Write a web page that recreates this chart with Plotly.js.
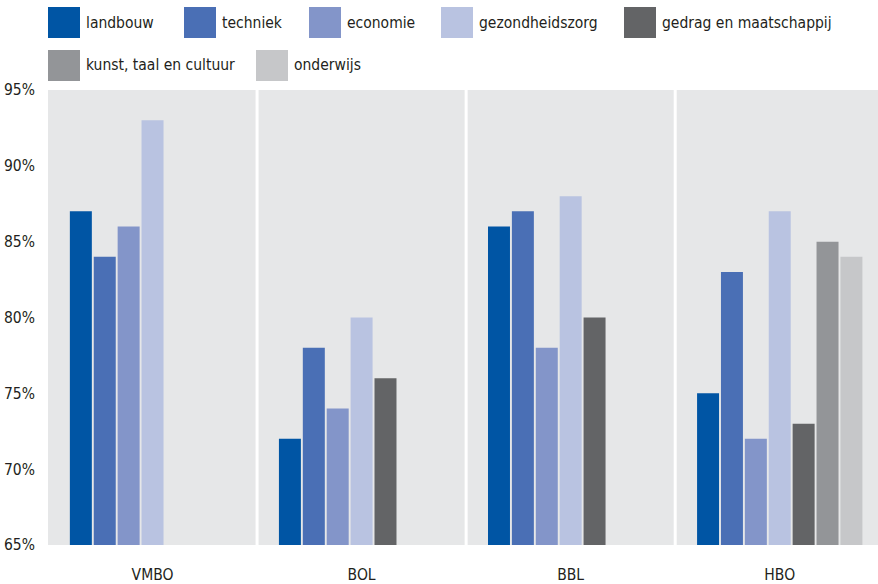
<!DOCTYPE html>
<html><head><meta charset="utf-8">
<script src="https://cdn.plot.ly/plotly-3.0.1.min.js"></script>
<style>html,body{margin:0;padding:0;background:#fff}#chart{width:878px;height:584px}</style>
</head><body><div id="chart"></div>
<script>
// ---- data ----
const categories = ['VMBO', 'BOL', 'BBL', 'HBO'];
const seriesNames = ['landbouw', 'techniek', 'economie', 'gezondheidszorg',
  'gedrag en maatschappij', 'kunst, taal en cultuur', 'onderwijs'];
const landbouw = [87, 72, 86, 75];
const techniek = [84, 78, 87, 83];
const economie = [86, 74, 78, 72];
const gezondheidszorg = [93, 80, 88, 87];
const gedragEnMaatschappij = [null, 76, 80, 73];
const kunstTaalEnCultuur = [null, null, null, 85];
const onderwijs = [null, null, null, 84];
const yTickValues = [65, 70, 75, 80, 85, 90, 95];
const yTickLabels = ['65%', '70%', '75%', '80%', '85%', '90%', '95%'];

// ---- styles ----
const seriesValues = [landbouw, techniek, economie, gezondheidszorg,
  gedragEnMaatschappij, kunstTaalEnCultuur, onderwijs];
const colors = ['#0055a4', '#4a6fb5', '#8395c9', '#b9c3e1', '#636466', '#939598', '#c6c7c9'];
const FONT = "'Liberation Sans Narrow', 'DejaVu Sans Condensed', 'Arial Narrow', sans-serif";
const TEXT = '#231f20';

// page geometry (pixels) for the hand-made legend
const W = 878, H = 584, ML = 48, MR = 0, MT = 90, MB = 39;
const legendPxX = [48, 184, 309, 441, 624, 48, 256];
const legendRow = [0, 0, 0, 0, 0, 1, 1];
const rowTop = [7, 50], SW = 32, SH = 31;
const px2x = p => (p - ML) / (W - ML - MR);
const py2y = p => (H - MB - p) / (H - MT - MB);

const traces = seriesNames.map((name, i) => ({
  type: 'bar', name: name, x: categories, y: seriesValues[i],
  marker: { color: colors[i], line: { width: 0 } },
  showlegend: false, hoverinfo: 'skip'
}));

const shapes = [];
const annotations = [];
// group separators
for (let k = 0; k < categories.length - 1; k++) {
  shapes.push({ type: 'line', xref: 'x', yref: 'paper', x0: k + 0.5, x1: k + 0.5, y0: 0, y1: 1,
    line: { color: '#ffffff', width: 3 }, layer: 'below' });
}
// legend
seriesNames.forEach((name, i) => {
  const top = rowTop[legendRow[i]];
  shapes.push({ type: 'rect', xref: 'paper', yref: 'paper',
    x0: px2x(legendPxX[i]), x1: px2x(legendPxX[i] + SW), y0: py2y(top + SH), y1: py2y(top),
    fillcolor: colors[i], line: { width: 0 } });
  annotations.push({ xref: 'paper', yref: 'paper', x: px2x(legendPxX[i] + SW + 4), y: py2y(top + SH / 2),
    xanchor: 'left', yanchor: 'middle', text: name, showarrow: false,
    font: { family: FONT, size: 15.5, color: TEXT } });
});

const layout = {
  width: W, height: H,
  margin: { l: ML, r: MR, t: MT, b: MB, pad: 0 },
  paper_bgcolor: '#ffffff', plot_bgcolor: '#e6e7e8',
  barmode: 'group', bargap: 0.2, bargroupgap: 0.08,
  font: { family: FONT, size: 15.5, color: TEXT },
  xaxis: { type: 'category', range: [-0.5, 3.47], showgrid: false, zeroline: false,
    showline: false, ticks: '', ticklabelstandoff: 18, tickfont: { size: 15.5, family: FONT, color: TEXT } },
  yaxis: { range: [65, 95], tickmode: 'array', tickvals: yTickValues, ticktext: yTickLabels, showgrid: false,
    zeroline: false, showline: false, ticks: '', ticklabelstandoff: 12,
    tickfont: { size: 15.5, family: FONT, color: TEXT } },
  shapes: shapes, annotations: annotations, showlegend: false
};

Plotly.newPlot('chart', traces, layout, { staticPlot: true, displayModeBar: false });
</script></body></html>
